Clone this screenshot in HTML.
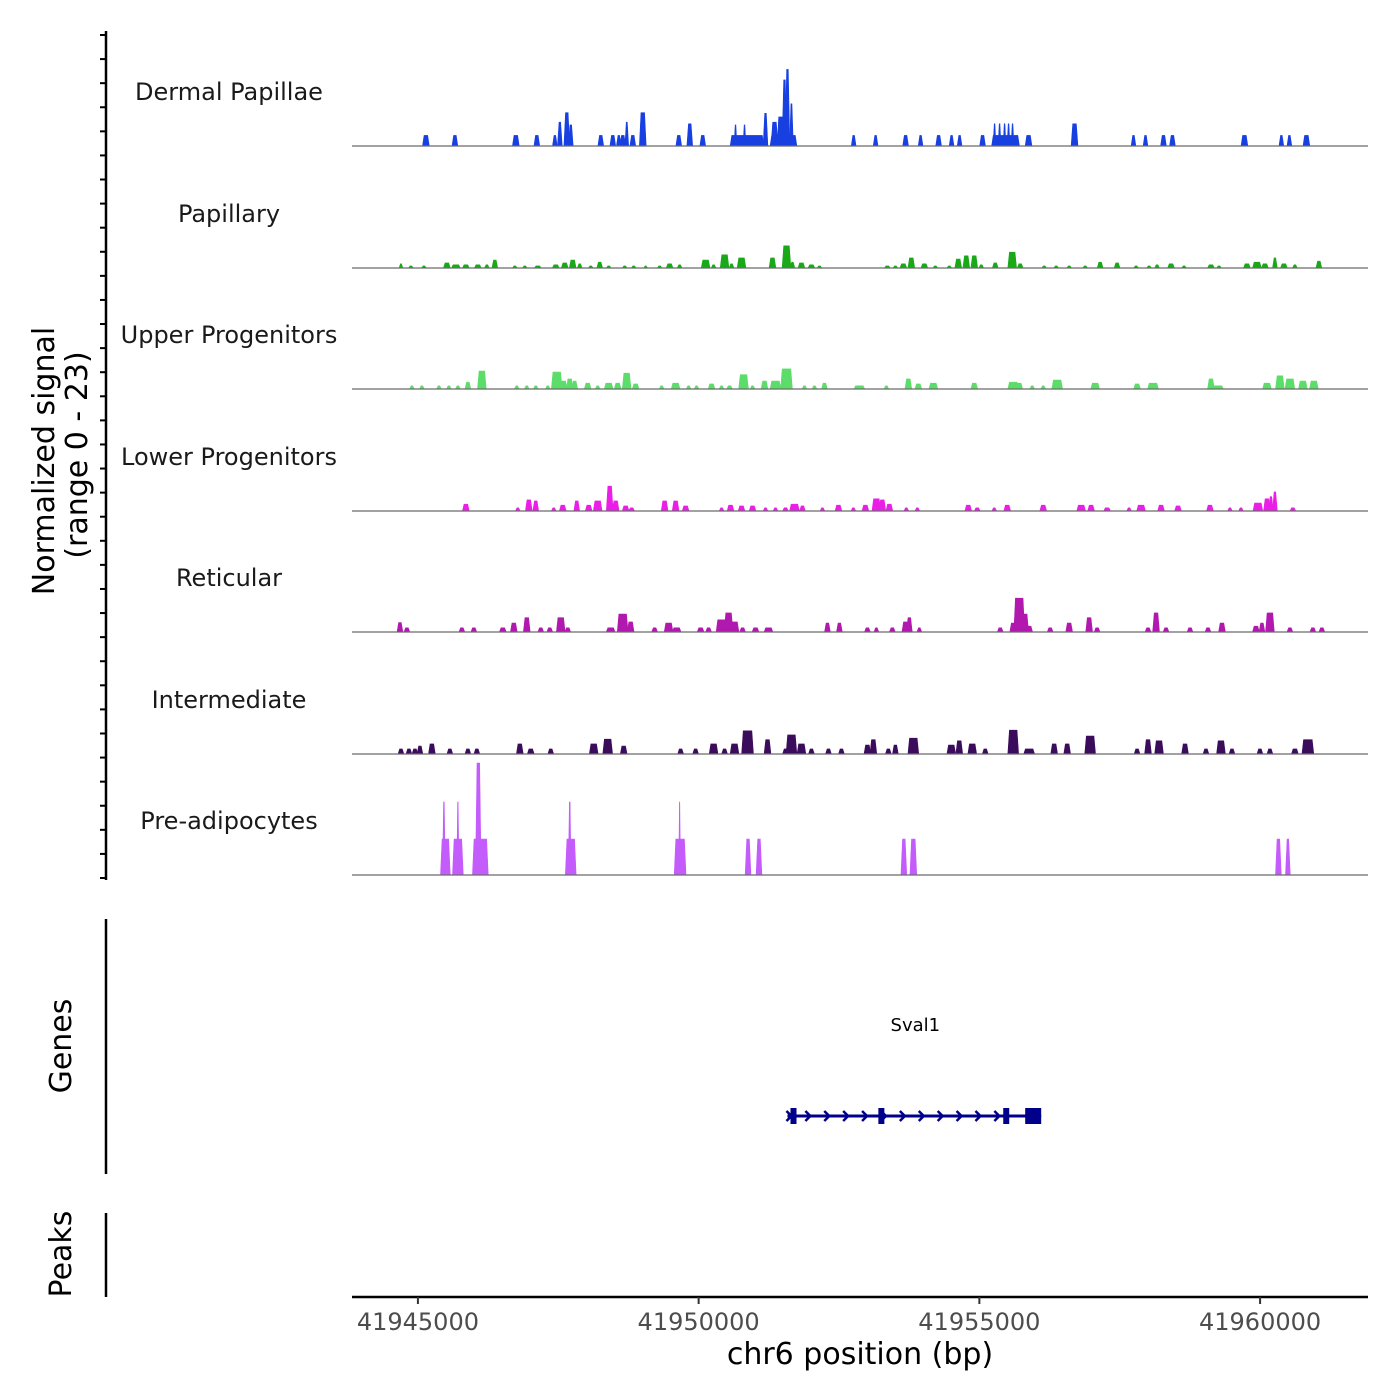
<!DOCTYPE html>
<html><head><meta charset="utf-8"><style>
html,body{margin:0;padding:0;background:#fff;}
svg{display:block;font-family:"DejaVu Sans","Liberation Sans",sans-serif;}
</style></head><body>
<svg id="chart" width="1400" height="1400" viewBox="0 0 1400 1400" xmlns="http://www.w3.org/2000/svg">
<rect width="1400" height="1400" fill="#fff"/>
<g id="tracks"></g>
<g id="leftaxis"></g>
<text transform="translate(54,461) rotate(-90)" text-anchor="middle" font-size="30" fill="#000">Normalized signal</text>
<text transform="translate(87,455) rotate(-90)" text-anchor="middle" font-size="30" fill="#000">(range 0 - 23)</text>
<line x1="106" y1="919" x2="106" y2="1174" stroke="#000" stroke-width="2.5"/>
<text transform="translate(71,1046) rotate(-90)" text-anchor="middle" font-size="30" fill="#000">Genes</text>
<line x1="106" y1="1213" x2="106" y2="1297" stroke="#000" stroke-width="2.5"/>
<text transform="translate(71,1254) rotate(-90)" text-anchor="middle" font-size="30" fill="#000">Peaks</text>
<g id="genes"></g>
<g id="xaxis"></g>
<text x="860" y="1364" text-anchor="middle" font-size="30" fill="#000">chr6 position (bp)</text>
</svg>
<script>
// ---- data ----
const trackNames = ["Dermal Papillae","Papillary","Upper Progenitors","Lower Progenitors","Reticular","Intermediate","Pre-adipocytes"];
const trackColors = ["#1840e0","#18a818","#5cdd6a","#ea1ee6","#b018ae","#3c0c5c","#c45cfc"];
const xTicks = [41945000,41950000,41955000,41960000];
const yMax = 23;

const dpPos = [41945142,41945659,41946744,41947118,41947439,41947528,41947652,41947723,41948257,41948471,41948578,41948649,41948720,41948827,41949005,41949646,41949842,41950073,41950862,41950657,41950817,41951191,41951511,41951351,41951458,41951529,41951582,41951653,41952761,41953152,41953686,41953953,41954274,41954505,41954648,41955057,41955466,41955271,41955360,41955449,41955520,41955591,41955876,41956695,41957745,41957959,41958279,41958439,41959721,41960379,41960522,41960825];
const dpWid = [107,89,107,89,71,71,89,71,89,89,71,89,53,89,107,89,89,89,587,36,36,71,463,107,107,71,71,53,71,71,89,71,89,71,71,89,481,36,36,36,36,36,107,107,71,71,89,89,107,71,71,107];
const dpVal = [2,2,2,2,2,4.5,6.3,4,2,2,2,2,4.5,2,6.3,2,4.2,2,2,4,4,6.2,2,4.5,5.5,12.5,14.5,8,2,2,2,2,2,2,2,2,2,4.2,4.2,4.2,4.2,4.2,2,4.2,2,2,2,2,2,2,2,2];

const paPos = [41944698,41944875,41945107,41945516,41945676,41945854,41946067,41946228,41946370,41946726,41946904,41947135,41947455,41947615,41947757,41947882,41948078,41948238,41948398,41948683,41948843,41949056,41949305,41949483,41949661,41950124,41950266,41950462,41950586,41950764,41951315,41951565,41951671,41951831,41952009,41952152,41953361,41953504,41953646,41953788,41954020,41954215,41954464,41954624,41954767,41954909,41955034,41955283,41955585,41955727,41956154,41956368,41956599,41956884,41957151,41957453,41957791,41958022,41958165,41958414,41958645,41959125,41959268,41959766,41959944,41960086,41960264,41960424,41960620,41961047];
const paWid = [53,71,71,107,142,107,107,71,89,71,71,107,107,107,107,71,71,89,71,71,71,53,71,107,71,142,71,142,71,142,107,142,71,107,107,71,89,71,107,107,107,71,71,107,107,107,71,89,142,89,71,71,71,71,89,89,71,71,71,107,71,107,71,107,142,107,71,107,71,89];
const paVal = [0.8,0.4,0.4,0.95,0.6,0.6,0.6,0.6,1.5,0.4,0.4,0.4,0.6,0.95,1.5,0.8,0.4,1.1,0.4,0.4,0.4,0.4,0.4,0.8,0.6,1.5,0.6,2.5,0.8,1.9,1.9,4.2,1.1,0.95,0.6,0.4,0.4,0.4,0.8,1.9,0.8,0.4,0.4,1.7,2.3,2.3,0.6,0.95,3,0.8,0.4,0.4,0.4,0.4,1.1,0.95,0.4,0.4,0.6,0.8,0.4,0.6,0.4,0.8,1.1,0.8,1.9,0.8,0.6,1.3];

const upPos = [41944893,41945071,41945374,41945551,41945712,41945890,41946139,41946761,41946939,41947099,41947313,41947473,41947597,41947704,41947793,41948024,41948202,41948398,41948558,41948718,41948878,41949341,41949590,41949821,41949963,41950230,41950408,41950550,41950800,41950960,41951173,41951369,41951565,41951885,41952063,41952241,41952863,41953344,41953735,41953913,41954180,41954909,41955603,41955710,41955941,41956137,41956386,41957062,41957809,41958093,41959125,41959250,41960122,41960353,41960531,41960762,41960958];
const upWid = [71,71,71,71,71,89,142,71,71,71,71,178,107,107,89,107,71,142,107,142,107,71,142,71,71,107,71,89,160,71,107,178,196,71,71,89,178,71,107,107,142,107,178,107,71,71,178,142,107,178,107,178,142,142,160,142,142];
const upVal = [0.6,0.6,0.6,0.6,0.6,1.3,3.4,0.6,0.6,0.6,0.6,3.2,1.5,1.9,1.5,1.1,0.6,1.1,1.1,3,0.95,0.6,1.1,0.6,0.6,0.95,0.6,0.6,2.7,0.6,1.5,1.5,3.8,0.6,0.6,1.1,0.6,0.6,1.9,0.95,1.1,1.1,1.3,1.1,0.6,0.6,1.7,1.1,0.95,1.1,1.9,0.6,1.1,2.5,1.9,1.5,1.5];

const loPos = [41945854,41946779,41946975,41947099,41947419,41947580,41947829,41948042,41948202,41948416,41948522,41948700,41948807,41949394,41949590,41949768,41950408,41950568,41950764,41950960,41951191,41951369,41951547,41951707,41951849,41952205,41952490,41952756,41952970,41953166,41953272,41953397,41953699,41953895,41954802,41954962,41955265,41955496,41956137,41956813,41956990,41957275,41957666,41957880,41958236,41958538,41959107,41959463,41959659,41959961,41960122,41960193,41960264,41960584];
const loWid = [107,71,107,89,71,107,89,107,142,107,107,107,89,107,107,107,71,107,107,107,71,71,89,160,89,71,107,71,107,142,107,107,71,71,107,89,71,107,107,142,107,107,71,142,107,107,107,71,71,160,107,71,71,89];
const loVal = [1.3,0.6,2.1,1.9,0.6,1.1,1.9,1.1,1.9,4.7,1.9,0.95,0.6,1.9,1.9,0.95,0.6,1.1,0.95,0.95,0.6,0.6,0.6,1.3,0.95,0.6,1.1,0.6,1.1,2.3,2.1,1.3,0.6,0.6,1.1,0.6,0.6,1.1,1.1,1.1,1.1,0.6,0.6,1.1,1.1,0.95,1.1,0.6,0.6,1.5,2.3,2.7,3.6,0.6];

const rePos = [41944680,41944804,41945783,41945996,41946512,41946708,41946939,41947188,41947348,41947544,41947669,41948433,41948647,41948789,41949216,41949465,41949608,41950035,41950177,41950408,41950533,41950639,41950782,41951013,41951244,41952294,41952507,41953006,41953166,41953450,41953682,41953753,41953931,41955372,41955603,41955710,41955799,41955887,41956261,41956599,41956955,41957097,41958004,41958147,41958325,41958752,41959072,41959321,41959926,41960033,41960175,41960531,41960940,41961100];
const reWid = [89,89,89,89,107,107,107,89,89,142,89,142,178,107,89,142,142,107,89,178,142,142,89,107,142,89,89,89,71,89,107,89,71,89,107,178,142,107,89,107,107,89,89,107,89,89,89,107,107,89,142,89,89,89];
const reVal = [1.8,0.8,0.8,0.8,0.8,1.7,2.7,0.8,0.8,2.7,0.8,0.8,3.4,1.9,0.8,1.7,0.8,0.8,0.8,2.3,3.6,1.9,0.8,0.8,0.8,1.7,1.7,0.8,0.8,0.8,1.9,2.7,0.8,0.8,1.7,6.4,3.4,1.1,0.8,1.7,2.7,0.8,0.8,3.6,0.8,0.8,0.8,1.7,1.1,1.7,3.6,0.8,0.8,0.8];

const inPos = [41944698,41944840,41944947,41945036,41945249,41945569,41945890,41946050,41946815,41947010,41947366,41948131,41948380,41948665,41949679,41949946,41950266,41950462,41950639,41950871,41951227,41951547,41951653,41951831,41952009,41952312,41952543,41953006,41953112,41953379,41953504,41953824,41954500,41954642,41954873,41955105,41955603,41955887,41956332,41956564,41956973,41957809,41958004,41958200,41958663,41959036,41959303,41959499,41959997,41960175,41960620,41960851];
const inWid = [89,89,89,89,107,89,89,89,107,107,89,142,160,107,89,89,142,89,142,196,107,89,178,142,89,89,89,107,107,89,89,178,142,107,142,89,178,178,107,107,178,89,107,142,107,89,142,89,89,89,107,196];
const inVal = [0.95,0.95,0.95,1.5,1.9,0.95,0.95,0.95,1.9,0.95,0.95,1.9,2.8,1.5,0.95,0.95,1.9,0.95,1.9,4.4,2.7,0.95,3.6,1.9,0.95,0.95,0.95,1.7,2.7,0.95,1.7,3,1.7,2.5,1.9,0.95,4.5,0.95,1.9,1.9,3.4,0.95,2.7,2.5,1.9,0.95,2.5,0.95,0.95,0.95,0.95,2.7];

const prPos = [41945489,41945712,41946112,41945463,41945712,41946076,41947722,41947704,41949670,41949661,41950880,41951075,41953655,41953824,41960326,41960495];
const prWid = [160,178,267,36,27,89,178,36,196,18,89,89,89,107,89,71];
const prVal = [6.8,6.8,6.8,13.8,13.8,21.2,6.8,13.8,6.8,13.8,6.8,6.8,6.8,6.8,6.8,6.8];

const geneName = "Sval1";
const geneStart = 41951582, geneEnd = 41956101;
const exonStarts = [41951636,41953201,41955425,41955816];
const exonEnds   = [41951743,41953308,41955532,41956101];
const exonHeights = [16,16,16,16];

// ---- scales ----
const xDomain = [41943826, 41961922], xRange = [352, 1368];
function xs(bp){ return xRange[0] + (bp - xDomain[0]) * (xRange[1]-xRange[0]) / (xDomain[1]-xDomain[0]); }
const baselines = [146, 268, 389, 511, 632, 754, 875];
const trackH = 121.5;
function ys(v, i){ return baselines[i] - v / yMax * trackH; }

const NS = "http://www.w3.org/2000/svg";
function mk(tag, attrs, parent){ const e = document.createElementNS(NS, tag); for (const k in attrs) e.setAttribute(k, attrs[k]); parent.appendChild(e); return e; }

const tracks = document.getElementById("tracks");
const series = [[dpPos,dpWid,dpVal],[paPos,paWid,paVal],[upPos,upWid,upVal],[loPos,loWid,loVal],[rePos,reWid,reVal],[inPos,inWid,inVal],[prPos,prWid,prVal]];
series.forEach((s, i) => {
  const g = mk("g", {}, tracks);
  
  
  const lbl = mk("text", {x: 229, y: baselines[i] - 46, "text-anchor": "middle", "font-size": 24, fill: "#1a1a1a"}, g);
  lbl.textContent = trackNames[i];
  
  
  const [pos, wid, val] = s;
  for (let k = 0; k < pos.length; k++) {
    const x0 = xs(pos[k] - wid[k]/2), x1 = xs(pos[k] + wid[k]/2);
    const sl = Math.min((x1 - x0) / 3, 1.2);
    const y0 = baselines[i], y1 = ys(val[k], i);
    const p = mk("polygon", {points: `${x0-0.4},${y0} ${x0+sl},${y1} ${x1-sl},${y1} ${x1+0.4},${y0}`, fill: trackColors[i], stroke: trackColors[i], "stroke-width": 0.6}, g);
    
    
  }
  const bl = mk("line", {x1: 352, x2: 1368, y1: baselines[i], y2: baselines[i], stroke: "#6b6b6b", "stroke-width": 1.2}, g);
  
  
});

// left axis with ticks
const la = document.getElementById("leftaxis");
mk("line", {x1: 106, x2: 106, y1: 31, y2: 880, stroke: "#000", "stroke-width": 2.5}, la);
for (let t = 0; t < 36; t++) {
  const y = 35 + t * (878 - 35) / 35;
  const tk = mk("line", {x1: 100, x2: 106, y1: y, y2: y, stroke: "#000", "stroke-width": 2}, la);
  
  
}

// gene
const gg = document.getElementById("genes");
const gy = 1116;
const gl = mk("line", {x1: xs(geneStart), x2: xs(geneEnd), y1: gy, y2: gy, stroke: "#00008b", "stroke-width": 3}, gg);


for (let x = xs(geneStart) + 2; x < xs(geneEnd) - 25; x += 18.9) {
  const ch = mk("polyline", {points: `${x-3},${gy-5} ${x+2},${gy} ${x-3},${gy+5}`, fill: "none", stroke: "#00008b", "stroke-width": 2.5}, gg);
  
  
}
exonStarts.forEach((s, k) => {
  const r = mk("rect", {x: xs(s), y: gy - exonHeights[k]/2, width: Math.max(xs(exonEnds[k]) - xs(s), 2), height: exonHeights[k], fill: "#00008b"}, gg);
  
  
});
const gt = mk("text", {x: (xs(geneStart)+xs(geneEnd))/2 + 1, y: 1031, "text-anchor": "middle", "font-size": 18, fill: "#000"}, gg);
gt.textContent = geneName;



// x axis
const xa = document.getElementById("xaxis");
mk("line", {x1: 352, x2: 1368, y1: 1297, y2: 1297, stroke: "#000", "stroke-width": 2.5}, xa);
xTicks.forEach(t => {
  const tk = mk("line", {x1: xs(t), x2: xs(t), y1: 1297, y2: 1304, stroke: "#333", "stroke-width": 2}, xa);
  
  
  const tl = mk("text", {x: xs(t), y: 1330, "text-anchor": "middle", "font-size": 24, fill: "#4d4d4d"}, xa);
  tl.textContent = String(t);
  
  
});
</script>
</body></html>
